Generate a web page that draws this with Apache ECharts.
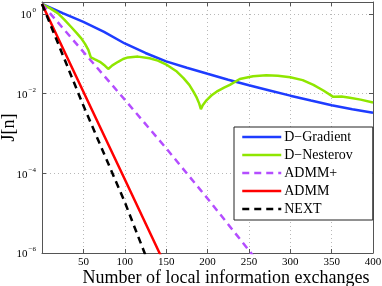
<!DOCTYPE html>
<html><head><meta charset="utf-8">
<script src="https://cdn.jsdelivr.net/npm/echarts@6/dist/echarts.min.js"></script>
<style>html,body{margin:0;padding:0;background:#fff}#c{width:382px;height:286px}</style>
</head><body><div id="c"></div>
<script>
const seriesNames = ['D\u2212Gradient', 'D\u2212Nesterov', 'ADMM+', 'ADMM', 'NEXT'];
const seriesColors = ['#1e3cff', '#8fe600', '#b44dff', '#ff0000', '#000000'];

const gradX = [0, 25, 50, 75, 100, 125, 150, 175, 200, 225, 250, 275, 300, 325, 350, 375, 400];
const gradJ = [1.78, 1.05, 0.631, 0.355, 0.182, 0.105, 0.0646, 0.0447, 0.0316, 0.0224, 0.0162, 0.0120, 0.00891, 0.00676, 0.00513, 0.00407, 0.00331];

const nestX = [0, 10, 19, 27, 35, 42, 47.5, 52, 56, 59, 64, 70, 75, 80, 85, 92, 98, 104, 116, 130, 140, 151, 162, 171, 178, 183, 187, 190, 192, 194, 199, 205, 211, 220, 227, 239, 255, 271, 285, 300, 315, 328, 340, 352, 362, 372, 385, 400];
const nestJ = [1.78, 1.38, 1.05, 0.724, 0.479, 0.331, 0.245, 0.178, 0.126, 0.0813, 0.0724, 0.0631, 0.0525, 0.0417, 0.0513, 0.0631, 0.0741, 0.0813, 0.0851, 0.0776, 0.0676, 0.0525, 0.0372, 0.0245, 0.0166, 0.0112, 0.00794, 0.00562, 0.00407, 0.00501, 0.00692, 0.00912, 0.0112, 0.0141, 0.0166, 0.0234, 0.0275, 0.0288, 0.0282, 0.0257, 0.0219, 0.0166, 0.0120, 0.00832, 0.00851, 0.00794, 0.00708, 0.00603];

const admmPlusX = [0, 50, 100, 150, 200, 250, 260];
const admmPlusJ = [1.78, 0.112, 0.00708, 4.27e-4, 2.34e-5, 1.17e-6, 6.31e-7];

const admmX = [0, 50, 100, 142, 150];
const admmJ = [1.78, 0.0112, 7.08e-5, 1.0e-6, 4.47e-7];

const nextX = [0, 50, 100, 124, 130];
const nextJ = [1.78, 5.01e-3, 1.91e-5, 1.0e-6, 4.47e-7];

const xLabelText = 'Number of local information exchanges';
const yLabelText = 'J[n]';

const FONT = "'Liberation Serif', 'DejaVu Serif', serif";
const AX = '#555';
const GRIDC = '#b8b8b8';

function pairs(xs, ys) { return xs.map((x, i) => [x, ys[i]]); }

const allX = [gradX, nestX, admmPlusX, admmX, nextX];
const allY = [gradJ, nestJ, admmPlusJ, admmJ, nextJ];
const dashed = [false, false, true, false, true];

const series = seriesNames.map((name, i) => ({
  name: name,
  type: 'line',
  symbol: 'none',
  smooth: false,
  clip: true,
  data: pairs(allX[i], allY[i]),
  lineStyle: { color: seriesColors[i], width: 2.5, type: dashed[i] ? [7, 5] : 'solid' },
  itemStyle: { color: seriesColors[i] },
  emphasis: { disabled: true }
}));

function yFmt(v) {
  const e = Math.log10(v);
  const r = Math.round(e);
  if (Math.abs(e - r) > 1e-6) return '';
  const s = r < 0 ? '\u2212' + (-r) : String(r);
  return '{b|10}{s|' + s + '}';
}

const chart = echarts.init(document.getElementById('c'), null, { renderer: 'canvas' });
chart.setOption({
  animation: false,
  backgroundColor: '#fff',
  grid: { left: 42, right: 9, top: 2, bottom: 33, containLabel: false, outerBoundsMode: 'none' },
  legend: {
    data: seriesNames,
    orient: 'vertical',
    left: 234, top: 127,
    backgroundColor: '#fff',
    borderColor: '#222', borderWidth: 1, borderRadius: 0,
    padding: [3, 20, 4, 7],
    itemWidth: 39, itemHeight: 14, itemGap: 4,
    lineStyle: { width: 2.5 },
    itemStyle: { opacity: 0 },
    textStyle: { fontFamily: FONT, fontSize: 14, color: '#000', padding: [0, 0, 0, -2] },
    selectedMode: false
  },
  xAxis: [{
    type: 'value', min: 0, max: 400, interval: 50,
    name: xLabelText, nameLocation: 'middle', nameGap: 16, nameMoveOverlap: false,
    nameTextStyle: { fontFamily: FONT, fontSize: 18, color: '#000', padding: [0, 0, 0, 37] },
    axisLine: { show: true, lineStyle: { color: AX, width: 1 } },
    axisTick: { show: true, inside: true, length: 4, lineStyle: { color: AX } },
    axisLabel: { fontFamily: FONT, fontSize: 11, color: '#000', margin: 4,
      formatter: v => (v === 0 ? '' : String(v)) },
    splitLine: { show: true, showMinLine: false, showMaxLine: false, lineStyle: { color: GRIDC, type: [1, 3], width: 1 } }
  }, {
    type: 'value', position: 'top', min: 0, max: 400, interval: 50,
    axisLine: { show: true, onZero: false, lineStyle: { color: AX, width: 1 } },
    axisTick: { show: true, inside: true, length: 4, lineStyle: { color: AX } },
    axisLabel: { show: false }, splitLine: { show: false }
  }],
  yAxis: [{
    type: 'log', logBase: 10, min: 1e-6, max: 2, interval: 2,
    name: yLabelText, nameLocation: 'middle', nameGap: 24, nameRotate: 90, nameMoveOverlap: false,
    nameTextStyle: { fontFamily: FONT, fontSize: 18, color: '#000' },
    axisLine: { show: true, lineStyle: { color: AX, width: 1 } },
    axisTick: { show: true, inside: true, length: 4, lineStyle: { color: AX } },
    minorTick: { show: false },
    axisLabel: {
      margin: 6, formatter: yFmt, color: '#000',
      rich: {
        b: { fontFamily: FONT, fontSize: 11, color: '#000', padding: [3, 0, 0, 0] },
        s: { fontFamily: FONT, fontSize: 7, color: '#000', verticalAlign: 'top', padding: [0, 0, 0, 1] }
      }
    },
    splitLine: { show: true, showMinLine: false, showMaxLine: false, lineStyle: { color: GRIDC, type: [1, 3], width: 1 } }
  }, {
    type: 'log', logBase: 10, min: 1e-6, max: 2, interval: 2, position: 'right',
    axisLine: { show: true, onZero: false, lineStyle: { color: AX, width: 1 } },
    axisTick: { show: true, inside: true, length: 4, lineStyle: { color: AX } },
    axisLabel: { show: false }, splitLine: { show: false }
  }],
  series: series
});
</script>
</body></html>
